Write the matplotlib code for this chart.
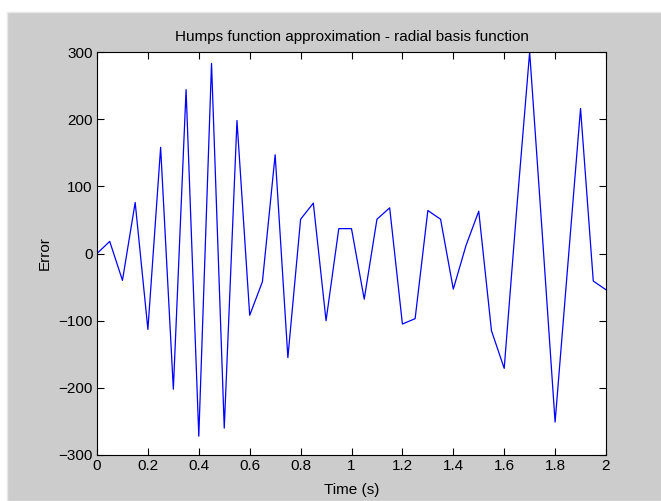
import matplotlib
matplotlib.use('Agg')
import matplotlib.pyplot as plt
from matplotlib.patches import Rectangle
from matplotlib.ticker import FormatStrFormatter

# Datos
tiempo = [0.00, 0.05, 0.10, 0.15, 0.20, 0.25, 0.30, 0.35, 0.40, 0.45,
          0.50, 0.55, 0.60, 0.65, 0.70, 0.75, 0.80, 0.85, 0.90, 0.95,
          1.00, 1.05, 1.10, 1.15, 1.20, 1.25, 1.30, 1.35, 1.40, 1.45,
          1.50, 1.55, 1.60, 1.65, 1.70, 1.75, 1.80, 1.85, 1.90, 1.95, 2.00]
error = [0, 18, -40, 76, -113, 158, -202, 244, -272, 283,
         -260, 198, -92, -42, 147, -155, 51, 75, -100, 37,
         37, -68, 51, 68, -105, -97, 64, 51, -53, 12,
         63, -115, -171, 70, 300, 27, -251, -17, 216, -41, -54]

xticks = [0, 0.2, 0.4, 0.6, 0.8, 1, 1.2, 1.4, 1.6, 1.8, 2]
yticks = [-300, -200, -100, 0, 100, 200, 300]

plt.rcParams['font.family'] = ['Liberation Sans', 'DejaVu Sans']
plt.rcParams['font.size'] = 11

fig = plt.figure(figsize=(6.61, 5.01), dpi=100, facecolor='white')
# fondo gris estilo ventana de MATLAB
fondo = Rectangle((7 / 661, 0), 1, 1 - 12 / 501, transform=fig.transFigure,
                  facecolor='#cccccc', edgecolor='#e8e8e8', linewidth=1, zorder=-10)
fig.add_artist(fondo)

ax = fig.add_axes([97 / 661, 1 - 455 / 501, 509 / 661, 403 / 501])
ax.set_zorder(5)
ax.set_facecolor('white')
ax.plot(tiempo, error, color='#0000ff', linewidth=0.9)

ax.set_xlim(0, 2)
ax.set_ylim(-300, 300)
ax.set_xticks(xticks)
ax.set_yticks(yticks)
ax.xaxis.set_major_formatter(FormatStrFormatter('%g'))
ax.tick_params(direction='in', top=True, right=True, length=5, width=0.8,
               labelsize=11, pad=3, colors='black')
for s in ax.spines.values():
    s.set_linewidth(0.8)

ax.set_title('Humps function approximation - radial basis function', fontsize=11, pad=8)
ax.set_xlabel('Time (s)', fontsize=11, labelpad=7)
ax.set_ylabel('Error', fontsize=11, labelpad=5)

fig.savefig('out.png', dpi=100, facecolor=fig.get_facecolor())
